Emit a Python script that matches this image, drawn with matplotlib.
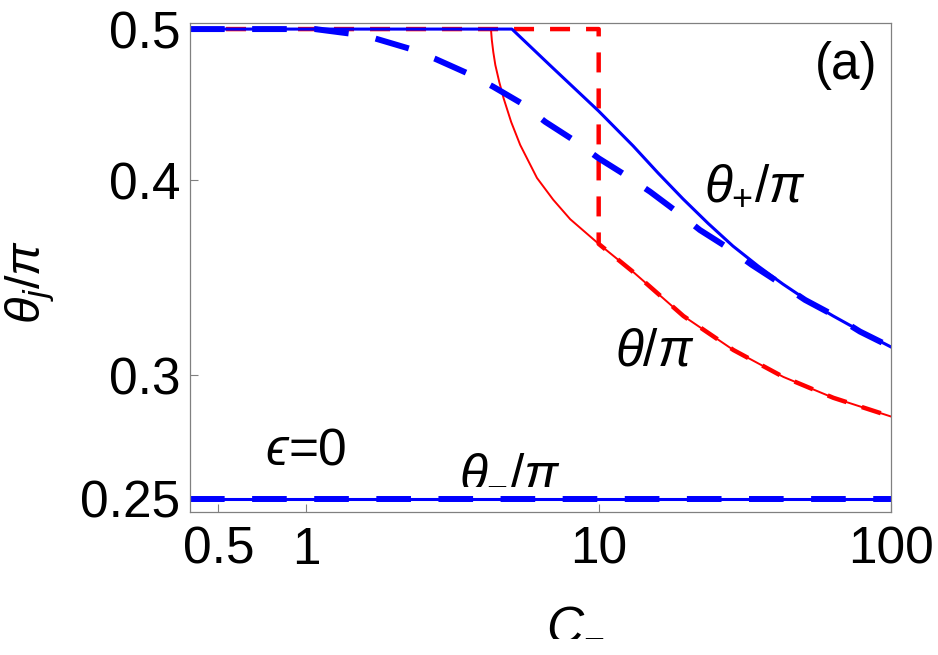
import matplotlib
matplotlib.use('Agg')
import matplotlib.pyplot as plt

plt.rcParams['font.family'] = ['Liberation Sans', 'DejaVu Sans']
plt.rcParams['mathtext.fontset'] = 'custom'
plt.rcParams['mathtext.rm'] = 'Liberation Sans'
plt.rcParams['mathtext.it'] = 'Liberation Sans:italic'

# theta/pi, solid red (epsilon = 0)
c_theta = [0.4, 4.28, 4.31, 4.36, 4.43, 4.57, 4.73, 5.02, 5.39, 6.15, 6.99,
           7.99, 10.0, 13.15, 19.5, 28.9, 42.8, 63.5, 100]
theta = [0.5, 0.5, 0.4919, 0.4833, 0.4742, 0.4624, 0.4514, 0.4359, 0.4214,
         0.4014, 0.3887, 0.3777, 0.3642, 0.3493, 0.3274, 0.3114, 0.2993,
         0.2902, 0.2823]

# theta/pi, dashed red
c_theta_d = [0.4, 10.0, 10.0, 13.15, 19.5, 28.9, 42.8, 63.5, 100]
theta_d = [0.5, 0.5, 0.3642, 0.3493, 0.3274, 0.3114, 0.2993, 0.2902, 0.2823]

# theta_+/pi, solid blue
c_plus = [0.4, 5.05, 6.83, 10.0, 13.12, 15.97, 19.45, 23.7, 28.8, 35.1,
          42.7, 52.0, 63.3, 79.6, 100]
theta_plus = [0.5, 0.5, 0.4738, 0.4430, 0.4208, 0.4043, 0.3891, 0.3753,
              0.3630, 0.3525, 0.3432, 0.3348, 0.3275, 0.3198, 0.3128]

# theta_+/pi, dashed blue
c_plus_d = [0.4, 1.07, 1.395, 1.72, 2.25, 2.76, 3.57, 4.35, 5.46, 6.56,
            8.20, 10.0, 12.32, 15.0, 18.5, 22.2, 27.8, 33.4, 41.7, 50.8,
            63.5, 78.3, 100]
theta_plus_d = [0.5, 0.5, 0.4968, 0.4931, 0.4858, 0.4785, 0.4683, 0.4593,
                0.4480, 0.4361, 0.4245, 0.4132, 0.4032, 0.3933, 0.3819,
                0.3717, 0.3619, 0.3531, 0.3437, 0.3353, 0.3279, 0.3200,
                0.3128]

# theta_-/pi, solid and dashed blue
c_minus = [0.4, 100]
theta_minus = [0.25, 0.25]

x_ticks = [0.5, 1, 10, 100]
x_ticklabels = ['0.5', '1', '10', '100']
y_ticks = [0.25, 0.3, 0.4, 0.5]
y_ticklabels = ['0.25', '0.3', '0.4', '0.5']

fig = plt.figure(figsize=(9.38, 6.55), dpi=100)
ax = fig.add_axes([0.2026, 0.2183, 0.7473, 0.7470])

blue = '#0000ff'
red = '#ff0000'

ax.plot(c_minus, theta_minus, color=blue, lw=2.2, solid_capstyle='butt')
ax.plot(c_minus, theta_minus, color=blue, lw=4.3, dashes=(5.8, 4.6))

ax.plot(c_theta, theta, color=red, lw=1.4)
ax.plot(c_theta_d, theta_d, color=red, lw=3.2, dashes=(4.5, 3.6))

ax.plot(c_plus, theta_plus, color=blue, lw=2.2)
ax.plot(c_plus_d, theta_plus_d, color=blue, lw=4.3, dashes=(5.8, 4.6))

ax.set_xscale('log')
ax.set_yscale('log')
ax.set_xlim(0.4, 100)
ax.set_ylim(0.2452, 0.5047)

ax.xaxis.set_minor_locator(matplotlib.ticker.NullLocator())
ax.yaxis.set_minor_locator(matplotlib.ticker.NullLocator())
ax.set_xticks(x_ticks)
ax.set_xticklabels(x_ticklabels)
ax.set_yticks(y_ticks)
ax.set_yticklabels(y_ticklabels)

for s in ax.spines.values():
    s.set_color('#808080')
    s.set_linewidth(0.9)

ax.tick_params(axis='both', direction='in', length=6, width=0.8,
               color='#808080', labelsize=37)
ax.tick_params(axis='x', pad=10)
ax.tick_params(axis='y', pad=7)

# axis labels placed by hand (figure fractions)
fig.text(575 / 938, 1 - 598 / 655, r'$C_{-}$', fontsize=37,
         ha='center', va='top')
fig.text(30 / 938, 1 - 282 / 655, r'$\theta_j/\pi$',
         fontsize=35, rotation=90, ha='center', va='center')

ax.text(70.0, 0.474, '(a)', fontsize=37, ha='center', va='center')
ax.text(34.3, 0.3967, r'$\theta_{+}/\pi$', fontsize=37,
        ha='center', va='center')
ax.text(15.6, 0.3106, r'$\theta/\pi$', fontsize=37, ha='center', va='center')
ax.text(0.868, 0.2628, '\u03f5', fontsize=37, style='italic',
        ha='right', va='baseline')
ax.text(0.868, 0.2628, '=0', fontsize=37, ha='left', va='baseline')
ax.text(4.98, 0.2609, r'$\theta_{-}/\pi$', fontsize=37,
        ha='center', va='center')

fig.savefig('out.png', dpi=100)
